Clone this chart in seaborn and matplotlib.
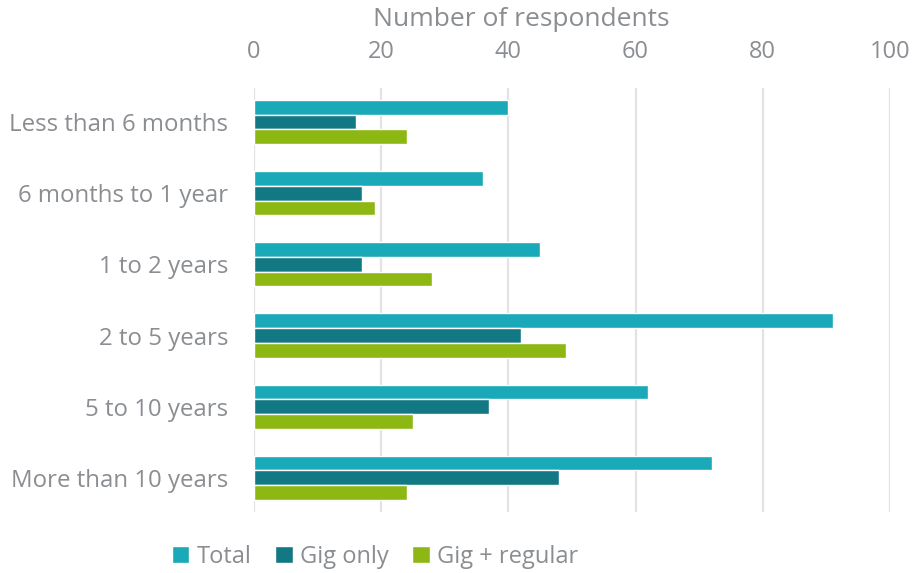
import seaborn as sns
import matplotlib.pyplot as plt
import pandas as pd

# data
categories = ["Less than 6 months", "6 months to 1 year", "1 to 2 years",
              "2 to 5 years", "5 to 10 years", "More than 10 years"]
total = [40, 36, 45, 91, 62, 72]
gig_only = [16, 17, 17, 42, 37, 48]
gig_regular = [24, 19, 28, 49, 25, 24]
series = ["Total", "Gig only", "Gig + regular"]
colors = ["#1AA9B8", "#127884", "#8DB814"]

df = pd.DataFrame({"cat": categories * 3,
                   "val": total + gig_only + gig_regular,
                   "series": [s for s in series for _ in categories]})

sns.set_style("white")
plt.rcParams['font.family'] = ['Open Sans', 'DejaVu Sans']
txt = "#8A8D91"

fig = plt.figure(figsize=(9.16, 5.73), dpi=100)
ax = fig.add_axes([0.2773, 0.1065, 0.6943, 0.740])

sns.barplot(data=df, x="val", y="cat", hue="series", order=categories,
            hue_order=series, palette=colors, width=0.62, orient="h",
            saturation=1, ax=ax, zorder=3)

ax.set_xlim(0, 100)
ax.set_ylim(5.48, -0.48)
ax.set_xticks([0, 20, 40, 60, 80, 100])
ax.xaxis.tick_top()
ax.set_xlabel("")
ax.set_ylabel("")
fig.text(521 / 916, 1 - 19 / 573, "Number of respondents", fontsize=19,
         color=txt, ha="center", va="center")
ax.tick_params(axis="both", length=0, labelsize=17, colors=txt)
ax.tick_params(axis="y", labelsize=17.3, pad=18.5)
ax.tick_params(axis="x", pad=17)
ax.grid(axis="x", color="#E3E3E3", linewidth=1.6, zorder=0)
ax.grid(axis="y", visible=False)
for s in ax.spines.values():
    s.set_visible(False)

handles, labels = ax.get_legend_handles_labels()
leg = ax.legend(handles, labels, loc="center", bbox_to_anchor=(375 / 916, 16 / 573),
                bbox_transform=fig.transFigure, ncol=3, frameon=False,
                fontsize=17, handlelength=0.75, handleheight=0.75, handletextpad=0.3,
                columnspacing=1.0)
for t in leg.get_texts():
    t.set_color(txt)

fig.savefig("out.png", dpi=100)
